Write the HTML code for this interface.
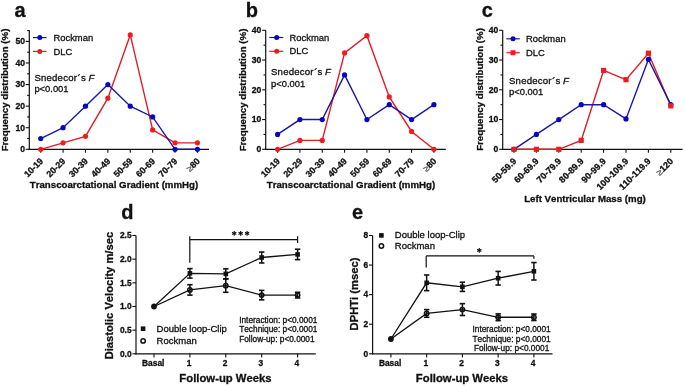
<!DOCTYPE html>
<html><head><meta charset="utf-8"><style>
html,body{margin:0;padding:0;background:#fff;}
body{width:685px;height:386px;overflow:hidden;}
svg{display:block;font-family:"Liberation Sans", sans-serif;filter:blur(0.3px);}
text{stroke:#111;stroke-width:0.3px;font-kerning:none;}
tspan.ge{stroke:#666;}
</style></head><body>
<svg width="685" height="386" viewBox="0 0 685 386">
<rect width="685" height="386" fill="#fff"/>
<line x1="29.30" y1="30.20" x2="29.30" y2="149.90" stroke="#111" stroke-width="1.2" stroke-linecap="butt"/>
<line x1="28.70" y1="149.30" x2="209.00" y2="149.30" stroke="#111" stroke-width="1.2" stroke-linecap="butt"/>
<line x1="25.70" y1="149.30" x2="29.30" y2="149.30" stroke="#111" stroke-width="1.1" stroke-linecap="butt"/>
<text x="25.00" y="152.20" font-size="8.6" font-weight="bold" text-anchor="end" fill="#111">0</text>
<line x1="25.70" y1="127.72" x2="29.30" y2="127.72" stroke="#111" stroke-width="1.1" stroke-linecap="butt"/>
<text x="25.00" y="130.62" font-size="8.6" font-weight="bold" text-anchor="end" fill="#111">10</text>
<line x1="25.70" y1="106.14" x2="29.30" y2="106.14" stroke="#111" stroke-width="1.1" stroke-linecap="butt"/>
<text x="25.00" y="109.04" font-size="8.6" font-weight="bold" text-anchor="end" fill="#111">20</text>
<line x1="25.70" y1="84.56" x2="29.30" y2="84.56" stroke="#111" stroke-width="1.1" stroke-linecap="butt"/>
<text x="25.00" y="87.46" font-size="8.6" font-weight="bold" text-anchor="end" fill="#111">30</text>
<line x1="25.70" y1="62.98" x2="29.30" y2="62.98" stroke="#111" stroke-width="1.1" stroke-linecap="butt"/>
<text x="25.00" y="65.88" font-size="8.6" font-weight="bold" text-anchor="end" fill="#111">40</text>
<line x1="25.70" y1="41.40" x2="29.30" y2="41.40" stroke="#111" stroke-width="1.1" stroke-linecap="butt"/>
<text x="25.00" y="44.30" font-size="8.6" font-weight="bold" text-anchor="end" fill="#111">50</text>
<line x1="27.10" y1="138.51" x2="29.30" y2="138.51" stroke="#111" stroke-width="1.1" stroke-linecap="butt"/>
<line x1="27.10" y1="116.93" x2="29.30" y2="116.93" stroke="#111" stroke-width="1.1" stroke-linecap="butt"/>
<line x1="27.10" y1="95.35" x2="29.30" y2="95.35" stroke="#111" stroke-width="1.1" stroke-linecap="butt"/>
<line x1="27.10" y1="73.77" x2="29.30" y2="73.77" stroke="#111" stroke-width="1.1" stroke-linecap="butt"/>
<line x1="27.10" y1="52.19" x2="29.30" y2="52.19" stroke="#111" stroke-width="1.1" stroke-linecap="butt"/>
<line x1="27.10" y1="30.61" x2="29.30" y2="30.61" stroke="#111" stroke-width="1.1" stroke-linecap="butt"/>
<line x1="40.70" y1="149.30" x2="40.70" y2="152.70" stroke="#111" stroke-width="1.1" stroke-linecap="butt"/>
<text x="0" y="0" font-size="8.9" font-weight="bold" text-anchor="end" fill="#111" transform="translate(43.70,161.80) rotate(-45)">10-19</text>
<line x1="63.09" y1="149.30" x2="63.09" y2="152.70" stroke="#111" stroke-width="1.1" stroke-linecap="butt"/>
<text x="0" y="0" font-size="8.9" font-weight="bold" text-anchor="end" fill="#111" transform="translate(66.09,161.80) rotate(-45)">20-29</text>
<line x1="85.48" y1="149.30" x2="85.48" y2="152.70" stroke="#111" stroke-width="1.1" stroke-linecap="butt"/>
<text x="0" y="0" font-size="8.9" font-weight="bold" text-anchor="end" fill="#111" transform="translate(88.48,161.80) rotate(-45)">30-39</text>
<line x1="107.87" y1="149.30" x2="107.87" y2="152.70" stroke="#111" stroke-width="1.1" stroke-linecap="butt"/>
<text x="0" y="0" font-size="8.9" font-weight="bold" text-anchor="end" fill="#111" transform="translate(110.87,161.80) rotate(-45)">40-49</text>
<line x1="130.26" y1="149.30" x2="130.26" y2="152.70" stroke="#111" stroke-width="1.1" stroke-linecap="butt"/>
<text x="0" y="0" font-size="8.9" font-weight="bold" text-anchor="end" fill="#111" transform="translate(133.26,161.80) rotate(-45)">50-59</text>
<line x1="152.65" y1="149.30" x2="152.65" y2="152.70" stroke="#111" stroke-width="1.1" stroke-linecap="butt"/>
<text x="0" y="0" font-size="8.9" font-weight="bold" text-anchor="end" fill="#111" transform="translate(155.65,161.80) rotate(-45)">60-69</text>
<line x1="175.04" y1="149.30" x2="175.04" y2="152.70" stroke="#111" stroke-width="1.1" stroke-linecap="butt"/>
<text x="0" y="0" font-size="8.9" font-weight="bold" text-anchor="end" fill="#111" transform="translate(178.04,161.80) rotate(-45)">70-79</text>
<line x1="197.43" y1="149.30" x2="197.43" y2="152.70" stroke="#111" stroke-width="1.1" stroke-linecap="butt"/>
<text x="0" y="0" font-size="8.9" font-weight="bold" text-anchor="end" fill="#111" transform="translate(200.43,161.80) rotate(-45)"><tspan class="ge" font-weight="normal" fill="#555">≥</tspan>80</text>
<polyline points="40.70,149.30 63.09,142.83 85.48,136.35 107.87,98.16 130.26,34.93 152.65,129.88 175.04,142.83 197.43,142.83" fill="none" stroke="#e01c24" stroke-width="1.4" stroke-linejoin="miter"/>
<polyline points="40.70,138.51 63.09,127.72 85.48,106.14 107.87,84.56 130.26,106.14 152.65,116.93 175.04,149.30 197.43,149.30" fill="none" stroke="#1818a4" stroke-width="1.4" stroke-linejoin="miter"/>
<circle cx="40.70" cy="138.51" r="2.6" fill="#0606c4" stroke="none" stroke-width="0"/>
<circle cx="63.09" cy="127.72" r="2.6" fill="#0606c4" stroke="none" stroke-width="0"/>
<circle cx="85.48" cy="106.14" r="2.6" fill="#0606c4" stroke="none" stroke-width="0"/>
<circle cx="107.87" cy="84.56" r="2.6" fill="#0606c4" stroke="none" stroke-width="0"/>
<circle cx="130.26" cy="106.14" r="2.6" fill="#0606c4" stroke="none" stroke-width="0"/>
<circle cx="152.65" cy="116.93" r="2.6" fill="#0606c4" stroke="none" stroke-width="0"/>
<circle cx="175.04" cy="149.30" r="2.6" fill="#0606c4" stroke="none" stroke-width="0"/>
<circle cx="197.43" cy="149.30" r="2.6" fill="#0606c4" stroke="none" stroke-width="0"/>
<circle cx="40.70" cy="149.30" r="2.6" fill="#ee1c1c" stroke="none" stroke-width="0"/>
<circle cx="63.09" cy="142.83" r="2.6" fill="#ee1c1c" stroke="none" stroke-width="0"/>
<circle cx="85.48" cy="136.35" r="2.6" fill="#ee1c1c" stroke="none" stroke-width="0"/>
<circle cx="107.87" cy="98.16" r="2.6" fill="#ee1c1c" stroke="none" stroke-width="0"/>
<circle cx="130.26" cy="34.93" r="2.6" fill="#ee1c1c" stroke="none" stroke-width="0"/>
<circle cx="152.65" cy="129.88" r="2.6" fill="#ee1c1c" stroke="none" stroke-width="0"/>
<circle cx="175.04" cy="142.83" r="2.6" fill="#ee1c1c" stroke="none" stroke-width="0"/>
<circle cx="197.43" cy="142.83" r="2.6" fill="#ee1c1c" stroke="none" stroke-width="0"/>
<line x1="33.00" y1="37.60" x2="46.50" y2="37.60" stroke="#1818a4" stroke-width="1.2" stroke-linecap="butt"/>
<circle cx="39.80" cy="37.60" r="2.5" fill="#0606c4" stroke="none" stroke-width="0"/>
<line x1="33.00" y1="51.40" x2="46.50" y2="51.40" stroke="#e01c24" stroke-width="1.2" stroke-linecap="butt"/>
<circle cx="39.80" cy="51.40" r="2.5" fill="#ee1c1c" stroke="none" stroke-width="0"/>
<text x="53.50" y="40.70" font-size="9.4" font-weight="normal" text-anchor="start" fill="#111">Rockman</text>
<text x="53.50" y="54.50" font-size="9.4" font-weight="normal" text-anchor="start" fill="#111">DLC</text>
<text x="34.40" y="80.80" font-size="9.6" fill="#111" style="letter-spacing:0.2px">Snedecor<tspan dx="0.5">´</tspan><tspan dx="0">s</tspan> <tspan dx="-0.4" font-style="italic">F</tspan></text>
<text x="34.40" y="91.80" font-size="9.4" font-weight="normal" text-anchor="start" fill="#111">p&lt;0.001</text>
<text x="114.00" y="188.10" font-size="9.7" font-weight="bold" text-anchor="middle" fill="#111">Transcoarctational Gradient (mmHg)</text>
<text x="0" y="0" font-size="9.7" font-weight="bold" text-anchor="middle" fill="#111" transform="translate(8.40,90.00) rotate(-90)">Frequency distribution (%)</text>
<text x="14.60" y="16.90" font-size="20" font-weight="bold" text-anchor="start" fill="#111">a</text>
<line x1="265.70" y1="30.20" x2="265.70" y2="149.90" stroke="#111" stroke-width="1.2" stroke-linecap="butt"/>
<line x1="265.10" y1="149.30" x2="445.80" y2="149.30" stroke="#111" stroke-width="1.2" stroke-linecap="butt"/>
<line x1="262.10" y1="149.30" x2="265.70" y2="149.30" stroke="#111" stroke-width="1.1" stroke-linecap="butt"/>
<text x="261.40" y="152.20" font-size="8.6" font-weight="bold" text-anchor="end" fill="#111">0</text>
<line x1="262.10" y1="119.55" x2="265.70" y2="119.55" stroke="#111" stroke-width="1.1" stroke-linecap="butt"/>
<text x="261.40" y="122.45" font-size="8.6" font-weight="bold" text-anchor="end" fill="#111">10</text>
<line x1="262.10" y1="89.80" x2="265.70" y2="89.80" stroke="#111" stroke-width="1.1" stroke-linecap="butt"/>
<text x="261.40" y="92.70" font-size="8.6" font-weight="bold" text-anchor="end" fill="#111">20</text>
<line x1="262.10" y1="60.05" x2="265.70" y2="60.05" stroke="#111" stroke-width="1.1" stroke-linecap="butt"/>
<text x="261.40" y="62.95" font-size="8.6" font-weight="bold" text-anchor="end" fill="#111">30</text>
<line x1="262.10" y1="30.30" x2="265.70" y2="30.30" stroke="#111" stroke-width="1.1" stroke-linecap="butt"/>
<text x="261.40" y="33.20" font-size="8.6" font-weight="bold" text-anchor="end" fill="#111">40</text>
<line x1="263.50" y1="134.43" x2="265.70" y2="134.43" stroke="#111" stroke-width="1.1" stroke-linecap="butt"/>
<line x1="263.50" y1="104.68" x2="265.70" y2="104.68" stroke="#111" stroke-width="1.1" stroke-linecap="butt"/>
<line x1="263.50" y1="74.93" x2="265.70" y2="74.93" stroke="#111" stroke-width="1.1" stroke-linecap="butt"/>
<line x1="263.50" y1="45.18" x2="265.70" y2="45.18" stroke="#111" stroke-width="1.1" stroke-linecap="butt"/>
<line x1="277.60" y1="149.30" x2="277.60" y2="152.70" stroke="#111" stroke-width="1.1" stroke-linecap="butt"/>
<text x="0" y="0" font-size="8.9" font-weight="bold" text-anchor="end" fill="#111" transform="translate(280.60,161.80) rotate(-45)">10-19</text>
<line x1="299.93" y1="149.30" x2="299.93" y2="152.70" stroke="#111" stroke-width="1.1" stroke-linecap="butt"/>
<text x="0" y="0" font-size="8.9" font-weight="bold" text-anchor="end" fill="#111" transform="translate(302.93,161.80) rotate(-45)">20-29</text>
<line x1="322.26" y1="149.30" x2="322.26" y2="152.70" stroke="#111" stroke-width="1.1" stroke-linecap="butt"/>
<text x="0" y="0" font-size="8.9" font-weight="bold" text-anchor="end" fill="#111" transform="translate(325.26,161.80) rotate(-45)">30-39</text>
<line x1="344.59" y1="149.30" x2="344.59" y2="152.70" stroke="#111" stroke-width="1.1" stroke-linecap="butt"/>
<text x="0" y="0" font-size="8.9" font-weight="bold" text-anchor="end" fill="#111" transform="translate(347.59,161.80) rotate(-45)">40-49</text>
<line x1="366.92" y1="149.30" x2="366.92" y2="152.70" stroke="#111" stroke-width="1.1" stroke-linecap="butt"/>
<text x="0" y="0" font-size="8.9" font-weight="bold" text-anchor="end" fill="#111" transform="translate(369.92,161.80) rotate(-45)">50-59</text>
<line x1="389.25" y1="149.30" x2="389.25" y2="152.70" stroke="#111" stroke-width="1.1" stroke-linecap="butt"/>
<text x="0" y="0" font-size="8.9" font-weight="bold" text-anchor="end" fill="#111" transform="translate(392.25,161.80) rotate(-45)">60-69</text>
<line x1="411.58" y1="149.30" x2="411.58" y2="152.70" stroke="#111" stroke-width="1.1" stroke-linecap="butt"/>
<text x="0" y="0" font-size="8.9" font-weight="bold" text-anchor="end" fill="#111" transform="translate(414.58,161.80) rotate(-45)">70-79</text>
<line x1="433.91" y1="149.30" x2="433.91" y2="152.70" stroke="#111" stroke-width="1.1" stroke-linecap="butt"/>
<text x="0" y="0" font-size="8.9" font-weight="bold" text-anchor="end" fill="#111" transform="translate(436.91,161.80) rotate(-45)"><tspan class="ge" font-weight="normal" fill="#555">≥</tspan>80</text>
<polyline points="277.60,149.30 299.93,140.38 322.26,140.38 344.59,52.91 366.92,35.66 389.25,96.94 411.58,131.45 433.91,149.30" fill="none" stroke="#e01c24" stroke-width="1.4" stroke-linejoin="miter"/>
<polyline points="277.60,134.43 299.93,119.55 322.26,119.55 344.59,74.93 366.92,119.55 389.25,104.68 411.58,119.55 433.91,104.68" fill="none" stroke="#1818a4" stroke-width="1.4" stroke-linejoin="miter"/>
<circle cx="277.60" cy="134.43" r="2.6" fill="#0606c4" stroke="none" stroke-width="0"/>
<circle cx="299.93" cy="119.55" r="2.6" fill="#0606c4" stroke="none" stroke-width="0"/>
<circle cx="322.26" cy="119.55" r="2.6" fill="#0606c4" stroke="none" stroke-width="0"/>
<circle cx="344.59" cy="74.93" r="2.6" fill="#0606c4" stroke="none" stroke-width="0"/>
<circle cx="366.92" cy="119.55" r="2.6" fill="#0606c4" stroke="none" stroke-width="0"/>
<circle cx="389.25" cy="104.68" r="2.6" fill="#0606c4" stroke="none" stroke-width="0"/>
<circle cx="411.58" cy="119.55" r="2.6" fill="#0606c4" stroke="none" stroke-width="0"/>
<circle cx="433.91" cy="104.68" r="2.6" fill="#0606c4" stroke="none" stroke-width="0"/>
<circle cx="277.60" cy="149.30" r="2.6" fill="#ee1c1c" stroke="none" stroke-width="0"/>
<circle cx="299.93" cy="140.38" r="2.6" fill="#ee1c1c" stroke="none" stroke-width="0"/>
<circle cx="322.26" cy="140.38" r="2.6" fill="#ee1c1c" stroke="none" stroke-width="0"/>
<circle cx="344.59" cy="52.91" r="2.6" fill="#ee1c1c" stroke="none" stroke-width="0"/>
<circle cx="366.92" cy="35.66" r="2.6" fill="#ee1c1c" stroke="none" stroke-width="0"/>
<circle cx="389.25" cy="96.94" r="2.6" fill="#ee1c1c" stroke="none" stroke-width="0"/>
<circle cx="411.58" cy="131.45" r="2.6" fill="#ee1c1c" stroke="none" stroke-width="0"/>
<circle cx="433.91" cy="149.30" r="2.6" fill="#ee1c1c" stroke="none" stroke-width="0"/>
<line x1="269.30" y1="37.50" x2="283.30" y2="37.50" stroke="#1818a4" stroke-width="1.2" stroke-linecap="butt"/>
<circle cx="276.70" cy="37.50" r="2.5" fill="#0606c4" stroke="none" stroke-width="0"/>
<line x1="269.30" y1="51.30" x2="283.30" y2="51.30" stroke="#e01c24" stroke-width="1.2" stroke-linecap="butt"/>
<circle cx="276.70" cy="51.30" r="2.5" fill="#ee1c1c" stroke="none" stroke-width="0"/>
<text x="289.60" y="40.60" font-size="9.4" font-weight="normal" text-anchor="start" fill="#111">Rockman</text>
<text x="289.60" y="54.40" font-size="9.4" font-weight="normal" text-anchor="start" fill="#111">DLC</text>
<text x="271.00" y="75.10" font-size="9.6" fill="#111" style="letter-spacing:0.2px">Snedecor<tspan dx="0.5">´</tspan><tspan dx="0">s</tspan> <tspan dx="-0.4" font-style="italic">F</tspan></text>
<text x="271.00" y="86.50" font-size="9.4" font-weight="normal" text-anchor="start" fill="#111">p&lt;0.001</text>
<text x="351.00" y="188.10" font-size="9.7" font-weight="bold" text-anchor="middle" fill="#111">Transcoarctational Gradient (mmHg)</text>
<text x="0" y="0" font-size="9.7" font-weight="bold" text-anchor="middle" fill="#111" transform="translate(245.50,90.00) rotate(-90)">Frequency distribution (%)</text>
<text x="245.80" y="16.90" font-size="20" font-weight="bold" text-anchor="start" fill="#111">b</text>
<line x1="502.70" y1="30.20" x2="502.70" y2="149.90" stroke="#111" stroke-width="1.2" stroke-linecap="butt"/>
<line x1="502.10" y1="149.30" x2="682.60" y2="149.30" stroke="#111" stroke-width="1.2" stroke-linecap="butt"/>
<line x1="499.10" y1="149.30" x2="502.70" y2="149.30" stroke="#111" stroke-width="1.1" stroke-linecap="butt"/>
<text x="498.40" y="152.20" font-size="8.6" font-weight="bold" text-anchor="end" fill="#111">0</text>
<line x1="499.10" y1="119.55" x2="502.70" y2="119.55" stroke="#111" stroke-width="1.1" stroke-linecap="butt"/>
<text x="498.40" y="122.45" font-size="8.6" font-weight="bold" text-anchor="end" fill="#111">10</text>
<line x1="499.10" y1="89.80" x2="502.70" y2="89.80" stroke="#111" stroke-width="1.1" stroke-linecap="butt"/>
<text x="498.40" y="92.70" font-size="8.6" font-weight="bold" text-anchor="end" fill="#111">20</text>
<line x1="499.10" y1="60.05" x2="502.70" y2="60.05" stroke="#111" stroke-width="1.1" stroke-linecap="butt"/>
<text x="498.40" y="62.95" font-size="8.6" font-weight="bold" text-anchor="end" fill="#111">30</text>
<line x1="499.10" y1="30.30" x2="502.70" y2="30.30" stroke="#111" stroke-width="1.1" stroke-linecap="butt"/>
<text x="498.40" y="33.20" font-size="8.6" font-weight="bold" text-anchor="end" fill="#111">40</text>
<line x1="500.50" y1="134.43" x2="502.70" y2="134.43" stroke="#111" stroke-width="1.1" stroke-linecap="butt"/>
<line x1="500.50" y1="104.68" x2="502.70" y2="104.68" stroke="#111" stroke-width="1.1" stroke-linecap="butt"/>
<line x1="500.50" y1="74.93" x2="502.70" y2="74.93" stroke="#111" stroke-width="1.1" stroke-linecap="butt"/>
<line x1="500.50" y1="45.18" x2="502.70" y2="45.18" stroke="#111" stroke-width="1.1" stroke-linecap="butt"/>
<line x1="514.00" y1="149.30" x2="514.00" y2="152.70" stroke="#111" stroke-width="1.1" stroke-linecap="butt"/>
<text x="0" y="0" font-size="9.0" font-weight="bold" text-anchor="end" fill="#111" transform="translate(517.00,161.80) rotate(-45)">50-59.9</text>
<line x1="536.40" y1="149.30" x2="536.40" y2="152.70" stroke="#111" stroke-width="1.1" stroke-linecap="butt"/>
<text x="0" y="0" font-size="9.0" font-weight="bold" text-anchor="end" fill="#111" transform="translate(539.40,161.80) rotate(-45)">60-69.9</text>
<line x1="558.80" y1="149.30" x2="558.80" y2="152.70" stroke="#111" stroke-width="1.1" stroke-linecap="butt"/>
<text x="0" y="0" font-size="9.0" font-weight="bold" text-anchor="end" fill="#111" transform="translate(561.80,161.80) rotate(-45)">70-79.9</text>
<line x1="581.20" y1="149.30" x2="581.20" y2="152.70" stroke="#111" stroke-width="1.1" stroke-linecap="butt"/>
<text x="0" y="0" font-size="9.0" font-weight="bold" text-anchor="end" fill="#111" transform="translate(584.20,161.80) rotate(-45)">80-89.9</text>
<line x1="603.60" y1="149.30" x2="603.60" y2="152.70" stroke="#111" stroke-width="1.1" stroke-linecap="butt"/>
<text x="0" y="0" font-size="9.0" font-weight="bold" text-anchor="end" fill="#111" transform="translate(606.60,161.80) rotate(-45)">90-99.9</text>
<line x1="626.00" y1="149.30" x2="626.00" y2="152.70" stroke="#111" stroke-width="1.1" stroke-linecap="butt"/>
<text x="0" y="0" font-size="9.0" font-weight="bold" text-anchor="end" fill="#111" transform="translate(629.00,161.80) rotate(-45)">100-109.9</text>
<line x1="648.40" y1="149.30" x2="648.40" y2="152.70" stroke="#111" stroke-width="1.1" stroke-linecap="butt"/>
<text x="0" y="0" font-size="9.0" font-weight="bold" text-anchor="end" fill="#111" transform="translate(651.40,161.80) rotate(-45)">110-119.9</text>
<line x1="670.80" y1="149.30" x2="670.80" y2="152.70" stroke="#111" stroke-width="1.1" stroke-linecap="butt"/>
<text x="0" y="0" font-size="9.0" font-weight="bold" text-anchor="end" fill="#111" transform="translate(673.80,161.80) rotate(-45)"><tspan class="ge" font-weight="normal" fill="#555">≥</tspan>120</text>
<polyline points="514.00,149.30 536.40,149.30 558.80,149.30 581.20,140.38 603.60,70.46 626.00,79.69 648.40,53.21 670.80,105.87" fill="none" stroke="#e01c24" stroke-width="1.4" stroke-linejoin="miter"/>
<polyline points="514.00,149.30 536.40,134.43 558.80,119.55 581.20,104.68 603.60,104.68 626.00,118.96 648.40,59.46 670.80,104.68" fill="none" stroke="#1818a4" stroke-width="1.4" stroke-linejoin="miter"/>
<circle cx="514.00" cy="149.30" r="2.6" fill="#0606c4" stroke="none" stroke-width="0"/>
<circle cx="536.40" cy="134.43" r="2.6" fill="#0606c4" stroke="none" stroke-width="0"/>
<circle cx="558.80" cy="119.55" r="2.6" fill="#0606c4" stroke="none" stroke-width="0"/>
<circle cx="581.20" cy="104.68" r="2.6" fill="#0606c4" stroke="none" stroke-width="0"/>
<circle cx="603.60" cy="104.68" r="2.6" fill="#0606c4" stroke="none" stroke-width="0"/>
<circle cx="626.00" cy="118.96" r="2.6" fill="#0606c4" stroke="none" stroke-width="0"/>
<circle cx="648.40" cy="59.46" r="2.6" fill="#0606c4" stroke="none" stroke-width="0"/>
<circle cx="670.80" cy="104.68" r="2.6" fill="#0606c4" stroke="none" stroke-width="0"/>
<rect x="511.40" y="146.70" width="5.2" height="5.2" fill="#ee1c1c"/>
<rect x="533.80" y="146.70" width="5.2" height="5.2" fill="#ee1c1c"/>
<rect x="556.20" y="146.70" width="5.2" height="5.2" fill="#ee1c1c"/>
<rect x="578.60" y="137.78" width="5.2" height="5.2" fill="#ee1c1c"/>
<rect x="601.00" y="67.86" width="5.2" height="5.2" fill="#ee1c1c"/>
<rect x="623.40" y="77.09" width="5.2" height="5.2" fill="#ee1c1c"/>
<rect x="645.80" y="50.61" width="5.2" height="5.2" fill="#ee1c1c"/>
<rect x="668.20" y="103.27" width="5.2" height="5.2" fill="#ee1c1c"/>
<line x1="506.30" y1="38.80" x2="519.80" y2="38.80" stroke="#1818a4" stroke-width="1.2" stroke-linecap="butt"/>
<circle cx="513.00" cy="38.80" r="2.5" fill="#0606c4" stroke="none" stroke-width="0"/>
<line x1="506.30" y1="52.70" x2="519.80" y2="52.70" stroke="#e01c24" stroke-width="1.2" stroke-linecap="butt"/>
<rect x="510.50" y="50.20" width="5.0" height="5.0" fill="#ee1c1c"/>
<text x="526.00" y="41.90" font-size="9.4" font-weight="normal" text-anchor="start" fill="#111">Rockman</text>
<text x="526.00" y="55.80" font-size="9.4" font-weight="normal" text-anchor="start" fill="#111">DLC</text>
<text x="509.00" y="84.30" font-size="9.6" fill="#111" style="letter-spacing:0.2px">Snedecor<tspan dx="0.5">´</tspan><tspan dx="0">s</tspan> <tspan dx="-0.4" font-style="italic">F</tspan></text>
<text x="509.00" y="94.60" font-size="9.4" font-weight="normal" text-anchor="start" fill="#111">p&lt;0.001</text>
<text x="585.00" y="202.40" font-size="9.7" font-weight="bold" text-anchor="middle" fill="#111">Left Ventricular Mass (mg)</text>
<text x="0" y="0" font-size="9.7" font-weight="bold" text-anchor="middle" fill="#111" transform="translate(483.40,89.50) rotate(-90)">Frequency distribution (%)</text>
<text x="481.70" y="16.50" font-size="20" font-weight="bold" text-anchor="start" fill="#111">c</text>
<line x1="136.00" y1="235.50" x2="136.00" y2="354.40" stroke="#111" stroke-width="1.2" stroke-linecap="butt"/>
<line x1="135.40" y1="353.80" x2="315.80" y2="353.80" stroke="#111" stroke-width="1.2" stroke-linecap="butt"/>
<line x1="132.40" y1="353.80" x2="136.00" y2="353.80" stroke="#111" stroke-width="1.1" stroke-linecap="butt"/>
<text x="131.60" y="356.50" font-size="8.4" font-weight="bold" text-anchor="end" fill="#111">0.0</text>
<line x1="132.40" y1="330.14" x2="136.00" y2="330.14" stroke="#111" stroke-width="1.1" stroke-linecap="butt"/>
<text x="131.60" y="332.84" font-size="8.4" font-weight="bold" text-anchor="end" fill="#111">0.5</text>
<line x1="132.40" y1="306.48" x2="136.00" y2="306.48" stroke="#111" stroke-width="1.1" stroke-linecap="butt"/>
<text x="131.60" y="309.18" font-size="8.4" font-weight="bold" text-anchor="end" fill="#111">1.0</text>
<line x1="132.40" y1="282.82" x2="136.00" y2="282.82" stroke="#111" stroke-width="1.1" stroke-linecap="butt"/>
<text x="131.60" y="285.52" font-size="8.4" font-weight="bold" text-anchor="end" fill="#111">1.5</text>
<line x1="132.40" y1="259.16" x2="136.00" y2="259.16" stroke="#111" stroke-width="1.1" stroke-linecap="butt"/>
<text x="131.60" y="261.86" font-size="8.4" font-weight="bold" text-anchor="end" fill="#111">2.0</text>
<line x1="132.40" y1="235.50" x2="136.00" y2="235.50" stroke="#111" stroke-width="1.1" stroke-linecap="butt"/>
<text x="131.60" y="238.20" font-size="8.4" font-weight="bold" text-anchor="end" fill="#111">2.5</text>
<line x1="154.00" y1="353.80" x2="154.00" y2="357.40" stroke="#111" stroke-width="1.1" stroke-linecap="butt"/>
<text x="153.20" y="366.00" font-size="8.4" font-weight="bold" text-anchor="middle" fill="#111">Basal</text>
<line x1="189.90" y1="353.80" x2="189.90" y2="357.40" stroke="#111" stroke-width="1.1" stroke-linecap="butt"/>
<text x="189.10" y="366.00" font-size="8.4" font-weight="bold" text-anchor="middle" fill="#111">1</text>
<line x1="225.80" y1="353.80" x2="225.80" y2="357.40" stroke="#111" stroke-width="1.1" stroke-linecap="butt"/>
<text x="225.00" y="366.00" font-size="8.4" font-weight="bold" text-anchor="middle" fill="#111">2</text>
<line x1="261.70" y1="353.80" x2="261.70" y2="357.40" stroke="#111" stroke-width="1.1" stroke-linecap="butt"/>
<text x="260.90" y="366.00" font-size="8.4" font-weight="bold" text-anchor="middle" fill="#111">3</text>
<line x1="297.60" y1="353.80" x2="297.60" y2="357.40" stroke="#111" stroke-width="1.1" stroke-linecap="butt"/>
<text x="296.80" y="366.00" font-size="8.4" font-weight="bold" text-anchor="middle" fill="#111">4</text>
<polyline points="154.00,306.48 189.90,273.36 225.80,273.83 261.70,257.50 297.60,254.43" fill="none" stroke="#111" stroke-width="1.3" stroke-linejoin="miter"/>
<polyline points="154.00,306.48 189.90,289.92 225.80,285.66 261.70,295.12 297.60,295.12" fill="none" stroke="#111" stroke-width="1.3" stroke-linejoin="miter"/>
<line x1="189.90" y1="268.62" x2="189.90" y2="278.09" stroke="#111" stroke-width="1.5" stroke-linecap="butt"/>
<line x1="187.20" y1="268.62" x2="192.60" y2="268.62" stroke="#111" stroke-width="1.6" stroke-linecap="butt"/>
<line x1="187.20" y1="278.09" x2="192.60" y2="278.09" stroke="#111" stroke-width="1.6" stroke-linecap="butt"/>
<line x1="189.90" y1="284.71" x2="189.90" y2="295.12" stroke="#111" stroke-width="1.5" stroke-linecap="butt"/>
<line x1="187.20" y1="284.71" x2="192.60" y2="284.71" stroke="#111" stroke-width="1.6" stroke-linecap="butt"/>
<line x1="187.20" y1="295.12" x2="192.60" y2="295.12" stroke="#111" stroke-width="1.6" stroke-linecap="butt"/>
<line x1="225.80" y1="268.86" x2="225.80" y2="278.80" stroke="#111" stroke-width="1.5" stroke-linecap="butt"/>
<line x1="223.10" y1="268.86" x2="228.50" y2="268.86" stroke="#111" stroke-width="1.6" stroke-linecap="butt"/>
<line x1="223.10" y1="278.80" x2="228.50" y2="278.80" stroke="#111" stroke-width="1.6" stroke-linecap="butt"/>
<line x1="225.80" y1="279.03" x2="225.80" y2="292.28" stroke="#111" stroke-width="1.5" stroke-linecap="butt"/>
<line x1="223.10" y1="279.03" x2="228.50" y2="279.03" stroke="#111" stroke-width="1.6" stroke-linecap="butt"/>
<line x1="223.10" y1="292.28" x2="228.50" y2="292.28" stroke="#111" stroke-width="1.6" stroke-linecap="butt"/>
<line x1="261.70" y1="252.06" x2="261.70" y2="262.95" stroke="#111" stroke-width="1.5" stroke-linecap="butt"/>
<line x1="259.00" y1="252.06" x2="264.40" y2="252.06" stroke="#111" stroke-width="1.6" stroke-linecap="butt"/>
<line x1="259.00" y1="262.95" x2="264.40" y2="262.95" stroke="#111" stroke-width="1.6" stroke-linecap="butt"/>
<line x1="261.70" y1="290.39" x2="261.70" y2="299.86" stroke="#111" stroke-width="1.5" stroke-linecap="butt"/>
<line x1="259.00" y1="290.39" x2="264.40" y2="290.39" stroke="#111" stroke-width="1.6" stroke-linecap="butt"/>
<line x1="259.00" y1="299.86" x2="264.40" y2="299.86" stroke="#111" stroke-width="1.6" stroke-linecap="butt"/>
<line x1="297.60" y1="249.22" x2="297.60" y2="259.63" stroke="#111" stroke-width="1.5" stroke-linecap="butt"/>
<line x1="294.90" y1="249.22" x2="300.30" y2="249.22" stroke="#111" stroke-width="1.6" stroke-linecap="butt"/>
<line x1="294.90" y1="259.63" x2="300.30" y2="259.63" stroke="#111" stroke-width="1.6" stroke-linecap="butt"/>
<line x1="297.60" y1="292.28" x2="297.60" y2="297.96" stroke="#111" stroke-width="1.5" stroke-linecap="butt"/>
<line x1="294.90" y1="292.28" x2="300.30" y2="292.28" stroke="#111" stroke-width="1.6" stroke-linecap="butt"/>
<line x1="294.90" y1="297.96" x2="300.30" y2="297.96" stroke="#111" stroke-width="1.6" stroke-linecap="butt"/>
<circle cx="154.00" cy="306.48" r="2.9" fill="#111" stroke="none" stroke-width="0"/>
<rect x="187.60" y="271.06" width="4.6" height="4.6" fill="#111"/>
<circle cx="189.90" cy="289.92" r="2.2" fill="none" stroke="#111" stroke-width="1.5"/>
<rect x="223.50" y="271.53" width="4.6" height="4.6" fill="#111"/>
<circle cx="225.80" cy="285.66" r="2.2" fill="none" stroke="#111" stroke-width="1.5"/>
<rect x="259.40" y="255.20" width="4.6" height="4.6" fill="#111"/>
<circle cx="261.70" cy="295.12" r="2.2" fill="none" stroke="#111" stroke-width="1.5"/>
<rect x="295.30" y="252.13" width="4.6" height="4.6" fill="#111"/>
<circle cx="297.60" cy="295.12" r="2.2" fill="none" stroke="#111" stroke-width="1.5"/>
<line x1="189.80" y1="236.20" x2="189.80" y2="262.70" stroke="#111" stroke-width="1.2" stroke-linecap="butt"/>
<line x1="189.80" y1="239.60" x2="297.60" y2="239.60" stroke="#111" stroke-width="1.2" stroke-linecap="butt"/>
<line x1="297.60" y1="236.20" x2="297.60" y2="243.00" stroke="#111" stroke-width="1.2" stroke-linecap="butt"/>
<line x1="234.20" y1="230.95" x2="234.20" y2="235.85" stroke="#111" stroke-width="1.15" stroke-linecap="butt"/>
<line x1="232.08" y1="232.18" x2="236.32" y2="234.62" stroke="#111" stroke-width="1.15" stroke-linecap="butt"/>
<line x1="232.08" y1="234.62" x2="236.32" y2="232.18" stroke="#111" stroke-width="1.15" stroke-linecap="butt"/>
<line x1="240.65" y1="230.95" x2="240.65" y2="235.85" stroke="#111" stroke-width="1.15" stroke-linecap="butt"/>
<line x1="238.53" y1="232.18" x2="242.77" y2="234.62" stroke="#111" stroke-width="1.15" stroke-linecap="butt"/>
<line x1="238.53" y1="234.62" x2="242.77" y2="232.18" stroke="#111" stroke-width="1.15" stroke-linecap="butt"/>
<line x1="247.10" y1="230.95" x2="247.10" y2="235.85" stroke="#111" stroke-width="1.15" stroke-linecap="butt"/>
<line x1="244.98" y1="232.18" x2="249.22" y2="234.62" stroke="#111" stroke-width="1.15" stroke-linecap="butt"/>
<line x1="244.98" y1="234.62" x2="249.22" y2="232.18" stroke="#111" stroke-width="1.15" stroke-linecap="butt"/>
<rect x="140.80" y="326.40" width="4.6" height="4.6" fill="#111"/>
<circle cx="143.10" cy="340.90" r="2.2" fill="#fff" stroke="#111" stroke-width="1.5"/>
<text x="156.60" y="331.60" font-size="9.5" font-weight="normal" text-anchor="start" fill="#111">Double loop-Clip</text>
<text x="156.60" y="344.30" font-size="9.5" font-weight="normal" text-anchor="start" fill="#111">Rockman</text>
<text x="239.20" y="322.60" font-size="8.3" font-weight="normal" text-anchor="start" fill="#111">Interaction: p&lt;0.0001</text>
<text x="239.20" y="332.10" font-size="8.3" font-weight="normal" text-anchor="start" fill="#111">Technique: p&lt;0.0001</text>
<text x="239.20" y="341.60" font-size="8.3" font-weight="normal" text-anchor="start" fill="#111">Follow-up: p&lt;0.0001</text>
<text x="225.50" y="381.70" font-size="11.3" font-weight="bold" text-anchor="middle" fill="#111">Follow-up Weeks</text>
<text x="0" y="0" font-size="11.2" font-weight="bold" text-anchor="middle" fill="#111" transform="translate(113.00,295.60) rotate(-90)">Diastolic Velocity m/sec</text>
<text x="121.30" y="218.80" font-size="20" font-weight="bold" text-anchor="start" fill="#111">d</text>
<line x1="372.60" y1="235.50" x2="372.60" y2="354.40" stroke="#111" stroke-width="1.2" stroke-linecap="butt"/>
<line x1="372.00" y1="353.80" x2="552.50" y2="353.80" stroke="#111" stroke-width="1.2" stroke-linecap="butt"/>
<line x1="369.00" y1="353.80" x2="372.60" y2="353.80" stroke="#111" stroke-width="1.1" stroke-linecap="butt"/>
<text x="368.20" y="356.50" font-size="8.4" font-weight="bold" text-anchor="end" fill="#111">0</text>
<line x1="369.00" y1="324.22" x2="372.60" y2="324.22" stroke="#111" stroke-width="1.1" stroke-linecap="butt"/>
<text x="368.20" y="326.92" font-size="8.4" font-weight="bold" text-anchor="end" fill="#111">2</text>
<line x1="369.00" y1="294.64" x2="372.60" y2="294.64" stroke="#111" stroke-width="1.1" stroke-linecap="butt"/>
<text x="368.20" y="297.34" font-size="8.4" font-weight="bold" text-anchor="end" fill="#111">4</text>
<line x1="369.00" y1="265.06" x2="372.60" y2="265.06" stroke="#111" stroke-width="1.1" stroke-linecap="butt"/>
<text x="368.20" y="267.76" font-size="8.4" font-weight="bold" text-anchor="end" fill="#111">6</text>
<line x1="369.00" y1="235.48" x2="372.60" y2="235.48" stroke="#111" stroke-width="1.1" stroke-linecap="butt"/>
<text x="368.20" y="238.18" font-size="8.4" font-weight="bold" text-anchor="end" fill="#111">8</text>
<line x1="390.90" y1="353.80" x2="390.90" y2="357.40" stroke="#111" stroke-width="1.1" stroke-linecap="butt"/>
<text x="390.10" y="366.00" font-size="8.4" font-weight="bold" text-anchor="middle" fill="#111">Basal</text>
<line x1="426.65" y1="353.80" x2="426.65" y2="357.40" stroke="#111" stroke-width="1.1" stroke-linecap="butt"/>
<text x="425.85" y="366.00" font-size="8.4" font-weight="bold" text-anchor="middle" fill="#111">1</text>
<line x1="462.40" y1="353.80" x2="462.40" y2="357.40" stroke="#111" stroke-width="1.1" stroke-linecap="butt"/>
<text x="461.60" y="366.00" font-size="8.4" font-weight="bold" text-anchor="middle" fill="#111">2</text>
<line x1="498.15" y1="353.80" x2="498.15" y2="357.40" stroke="#111" stroke-width="1.1" stroke-linecap="butt"/>
<text x="497.35" y="366.00" font-size="8.4" font-weight="bold" text-anchor="middle" fill="#111">3</text>
<line x1="533.90" y1="353.80" x2="533.90" y2="357.40" stroke="#111" stroke-width="1.1" stroke-linecap="butt"/>
<text x="533.10" y="366.00" font-size="8.4" font-weight="bold" text-anchor="middle" fill="#111">4</text>
<polyline points="390.90,339.01 426.65,282.81 462.40,286.80 498.15,278.22 533.90,271.27" fill="none" stroke="#111" stroke-width="1.3" stroke-linejoin="miter"/>
<polyline points="390.90,339.01 426.65,313.42 462.40,309.58 498.15,317.27 533.90,317.27" fill="none" stroke="#111" stroke-width="1.3" stroke-linejoin="miter"/>
<line x1="426.65" y1="274.97" x2="426.65" y2="290.65" stroke="#111" stroke-width="1.5" stroke-linecap="butt"/>
<line x1="423.95" y1="274.97" x2="429.35" y2="274.97" stroke="#111" stroke-width="1.6" stroke-linecap="butt"/>
<line x1="423.95" y1="290.65" x2="429.35" y2="290.65" stroke="#111" stroke-width="1.6" stroke-linecap="butt"/>
<line x1="426.65" y1="309.58" x2="426.65" y2="317.27" stroke="#111" stroke-width="1.5" stroke-linecap="butt"/>
<line x1="423.95" y1="309.58" x2="429.35" y2="309.58" stroke="#111" stroke-width="1.6" stroke-linecap="butt"/>
<line x1="423.95" y1="317.27" x2="429.35" y2="317.27" stroke="#111" stroke-width="1.6" stroke-linecap="butt"/>
<line x1="462.40" y1="282.22" x2="462.40" y2="291.39" stroke="#111" stroke-width="1.5" stroke-linecap="butt"/>
<line x1="459.70" y1="282.22" x2="465.10" y2="282.22" stroke="#111" stroke-width="1.6" stroke-linecap="butt"/>
<line x1="459.70" y1="291.39" x2="465.10" y2="291.39" stroke="#111" stroke-width="1.6" stroke-linecap="butt"/>
<line x1="462.40" y1="303.66" x2="462.40" y2="315.49" stroke="#111" stroke-width="1.5" stroke-linecap="butt"/>
<line x1="459.70" y1="303.66" x2="465.10" y2="303.66" stroke="#111" stroke-width="1.6" stroke-linecap="butt"/>
<line x1="459.70" y1="315.49" x2="465.10" y2="315.49" stroke="#111" stroke-width="1.6" stroke-linecap="butt"/>
<line x1="498.15" y1="271.42" x2="498.15" y2="285.03" stroke="#111" stroke-width="1.5" stroke-linecap="butt"/>
<line x1="495.45" y1="271.42" x2="500.85" y2="271.42" stroke="#111" stroke-width="1.6" stroke-linecap="butt"/>
<line x1="495.45" y1="285.03" x2="500.85" y2="285.03" stroke="#111" stroke-width="1.6" stroke-linecap="butt"/>
<line x1="498.15" y1="313.87" x2="498.15" y2="320.67" stroke="#111" stroke-width="1.5" stroke-linecap="butt"/>
<line x1="495.45" y1="313.87" x2="500.85" y2="313.87" stroke="#111" stroke-width="1.6" stroke-linecap="butt"/>
<line x1="495.45" y1="320.67" x2="500.85" y2="320.67" stroke="#111" stroke-width="1.6" stroke-linecap="butt"/>
<line x1="533.90" y1="262.55" x2="533.90" y2="280.00" stroke="#111" stroke-width="1.5" stroke-linecap="butt"/>
<line x1="531.20" y1="262.55" x2="536.60" y2="262.55" stroke="#111" stroke-width="1.6" stroke-linecap="butt"/>
<line x1="531.20" y1="280.00" x2="536.60" y2="280.00" stroke="#111" stroke-width="1.6" stroke-linecap="butt"/>
<line x1="533.90" y1="314.01" x2="533.90" y2="320.52" stroke="#111" stroke-width="1.5" stroke-linecap="butt"/>
<line x1="531.20" y1="314.01" x2="536.60" y2="314.01" stroke="#111" stroke-width="1.6" stroke-linecap="butt"/>
<line x1="531.20" y1="320.52" x2="536.60" y2="320.52" stroke="#111" stroke-width="1.6" stroke-linecap="butt"/>
<circle cx="390.90" cy="339.01" r="2.9" fill="#111" stroke="none" stroke-width="0"/>
<rect x="424.35" y="280.51" width="4.6" height="4.6" fill="#111"/>
<circle cx="426.65" cy="313.42" r="2.2" fill="none" stroke="#111" stroke-width="1.5"/>
<rect x="460.10" y="284.50" width="4.6" height="4.6" fill="#111"/>
<circle cx="462.40" cy="309.58" r="2.2" fill="none" stroke="#111" stroke-width="1.5"/>
<rect x="495.85" y="275.92" width="4.6" height="4.6" fill="#111"/>
<circle cx="498.15" cy="317.27" r="2.2" fill="none" stroke="#111" stroke-width="1.5"/>
<rect x="531.60" y="268.97" width="4.6" height="4.6" fill="#111"/>
<circle cx="533.90" cy="317.27" r="2.2" fill="none" stroke="#111" stroke-width="1.5"/>
<line x1="426.20" y1="255.90" x2="426.20" y2="267.60" stroke="#111" stroke-width="1.2" stroke-linecap="butt"/>
<line x1="426.20" y1="255.90" x2="533.90" y2="255.90" stroke="#111" stroke-width="1.2" stroke-linecap="butt"/>
<line x1="533.90" y1="255.90" x2="533.90" y2="258.80" stroke="#111" stroke-width="1.2" stroke-linecap="butt"/>
<line x1="479.30" y1="247.95" x2="479.30" y2="252.85" stroke="#111" stroke-width="1.15" stroke-linecap="butt"/>
<line x1="477.18" y1="249.18" x2="481.42" y2="251.62" stroke="#111" stroke-width="1.15" stroke-linecap="butt"/>
<line x1="477.18" y1="251.62" x2="481.42" y2="249.18" stroke="#111" stroke-width="1.15" stroke-linecap="butt"/>
<rect x="379.10" y="233.10" width="4.6" height="4.6" fill="#111"/>
<circle cx="381.40" cy="246.00" r="2.2" fill="#fff" stroke="#111" stroke-width="1.5"/>
<text x="394.80" y="237.80" font-size="9.5" font-weight="normal" text-anchor="start" fill="#111">Double loop-Clip</text>
<text x="394.80" y="248.90" font-size="9.5" font-weight="normal" text-anchor="start" fill="#111">Rockman</text>
<text x="511.60" y="332.00" font-size="8.3" font-weight="normal" text-anchor="middle" fill="#111">Interaction: p&lt;0.0001</text>
<text x="511.60" y="342.00" font-size="8.3" font-weight="normal" text-anchor="middle" fill="#111">Technique: p&lt;0.0001</text>
<text x="511.60" y="351.00" font-size="8.3" font-weight="normal" text-anchor="middle" fill="#111">Follow-up: p&lt;0.0001</text>
<text x="462.00" y="381.70" font-size="11.3" font-weight="bold" text-anchor="middle" fill="#111">Follow-up Weeks</text>
<text x="0" y="0" font-size="11.2" font-weight="bold" text-anchor="middle" fill="#111" transform="translate(358.00,294.00) rotate(-90)">DPHTi (msec)</text>
<text x="352.10" y="218.80" font-size="20" font-weight="bold" text-anchor="start" fill="#111">e</text>
</svg>
</body></html>
